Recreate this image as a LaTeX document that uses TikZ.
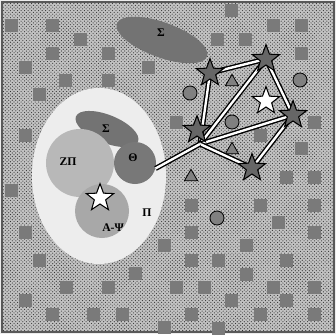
\documentclass[tikz,border=0pt]{standalone}
\usepackage{fontspec}
\setmainfont{Liberation Serif}
\usetikzlibrary{shapes.geometric,patterns}
\definecolor{bggray}{gray}{0.76}
\definecolor{sqgray}{gray}{0.48}
\definecolor{stargray}{gray}{0.40}
\definecolor{dotgray}{gray}{0.50}
\definecolor{pigray}{gray}{0.93}
\definecolor{zpgray}{gray}{0.72}
\definecolor{apgray}{gray}{0.66}
\definecolor{thgray}{gray}{0.47}
\definecolor{sigray}{gray}{0.45}
\tikzset{
  bigstar/.style={star, star points=5, star point ratio=2.4, minimum size=0.86cm,
    inner sep=0pt, draw=black, line width=0.9pt, fill=stargray},
  whitestar/.style={bigstar, fill=white},
  dot/.style={circle, minimum size=0.42cm, inner sep=0pt, draw=black, line width=0.7pt, fill=dotgray},
  tri/.style={regular polygon, regular polygon sides=3, minimum size=0.46cm, inner sep=0pt,
    draw=black, line width=0.7pt, fill=dotgray},
  blob/.style={inner sep=0pt},
  lbl/.style={font=\bfseries},
  link/.style={draw=black, line width=1.2pt, double=white, double distance=2pt}
}
\begin{document}
\begin{tikzpicture}[x=0.03cm, y=-0.03cm]
\useasboundingbox (0,0) rectangle (336,334);
\fill[gray!15] (0,0) rectangle (336,334);
\fill[bggray] (2,2) rectangle (334,332);
\fill[pattern=crosshatch dots, pattern color=gray!40!black] (2,2) rectangle (334,332);
\draw[gray!70!black, line width=1.2pt] (2,2) rectangle (334,332);
% squares in the background
\foreach \x/\y in {11/25, 52/25, 80/39, 52/53, 108/53, 25/67, 65/80, 108/80, 148/67, 39/94, 25/135,
    231/10, 273/25, 301/25, 217/39, 245/39, 301/53, 176/122, 314/122, 260/135, 301/148,
    11/190, 25/232, 39/260, 164/245, 135/273, 66/287, 108/287, 25/300, 52/314, 93/314, 122/314, 164/327,
    286/177, 314/177, 191/205, 260/205, 314/205, 278/222, 191/232, 314/232, 246/245, 191/260,
    218/260, 286/260, 246/274, 176/287, 204/287, 273/287, 314/287, 231/300, 286/300, 191/314,
    260/314, 314/314, 218/328}
  \fill[sqgray] (\x-6.5,\y-6.5) rectangle ++(13,13);
% top sigma
\node[blob, ellipse, fill=sigray, minimum width=2.88cm, minimum height=1.05cm, rotate=-20] (sigtop) at (162,40) {};
\node[lbl] (sigtoplbl) at (161,33) {Σ};
% the pi region
\node[blob, ellipse, fill=pigray, minimum width=4.02cm, minimum height=5.28cm] (pi) at (99,176) {};
\node[blob, ellipse, fill=sigray, minimum width=2.01cm, minimum height=0.84cm, rotate=-22] (sig) at (107,129) {};
\node[blob, circle, fill=zpgray, minimum size=2.04cm] (zp) at (80,163) {};
\node[blob, circle, fill=thgray, minimum size=1.26cm] (theta) at (135,163) {};
\node[blob, circle, fill=apgray, minimum size=1.62cm] (ap) at (102,211) {};
\node[lbl] at (106,129) {Σ};
\node[lbl] at (68,162) {ZΠ};
\node[lbl] at (133,158) {Θ};
\node[lbl] at (113,228) {A-Ψ};
\node[lbl] at (147,213) {Π};
\node[whitestar] (w1) at (100,198) {};
% small marks
\node[dot] (c1) at (190,93) {};
\node[dot] (c2) at (300,80) {};
\node[dot] (c3) at (232,122) {};
\node[dot] (c4) at (217,218) {};
\node[tri] (t1) at (232,82) {};
\node[tri] (t2) at (232,150) {};
\node[tri] (t3) at (191,177) {};
% links
\coordinate (hub) at (200,144);
\coordinate (A) at (210,73);
\coordinate (B) at (266,59);
\coordinate (C) at (293,115);
\coordinate (E) at (252,168);
\draw[link] (A) -- (B);
\draw[link] (A) -- (hub);
\draw[link] (hub) -- (B);
\draw[link] (B) -- (C);
\draw[link] (hub) -- (C);
\draw[link] (hub) -- (E);
\draw[link] (C) -- (E);
\draw[link] (hub) -- (theta.-15);
% stars
\node[bigstar] (sA) at (A) {};
\node[bigstar] (sB) at (B) {};
\node[bigstar] (sC) at (C) {};
\node[bigstar] (sD) at (197,130) {};
\node[bigstar] (sE) at (E) {};
\node[whitestar] (w2) at (266,101) {};
\end{tikzpicture}
\end{document}
